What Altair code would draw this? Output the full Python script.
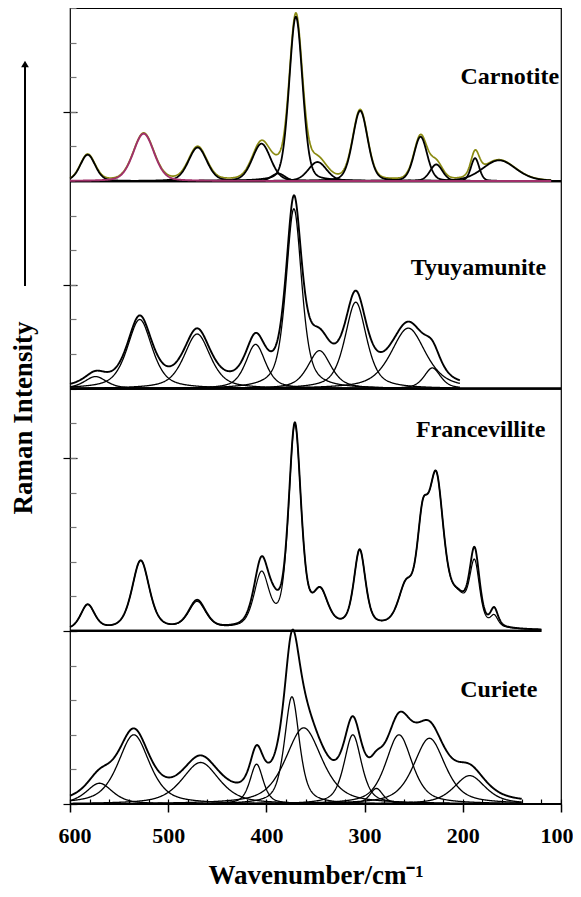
import numpy as np
import pandas as pd
import altair as alt

FONT = "Times New Roman, Liberation Serif, serif"

# ---------------- data ----------------
minerals = ["Carnotite", "Tyuyamunite", "Francevillite", "Curiete"]
offsets = [18, 12, 5, 0]            # baseline of each trace (intensity units)
curve_end = [110, 203, 120, 140]    # last wavenumber of each trace
baseline_end = [100, 100, 120, 100]
label_wn = [102, 115, 116, 124]
label_level = [21.0, 15.5, 10.8, 3.3]

x_major_ticks = [600, 500, 400, 300, 200, 100]
x_minor_ticks = list(range(100, 601, 20))
y_major_ticks = [0, 5, 10, 15, 20]
y_minor_ticks = list(range(0, 24))

# band parameters: centre (cm-1), height, FWHM
car_centers = [582, 525, 470, 405, 388, 370, 348, 304.5, 243, 227, 187.5, 163]
car_heights = [0.76, 1.37, 0.97, 1.08, 0.22, 4.75, 0.55, 2.03, 1.28, 0.48, 0.66, 0.6]
car_fwhm = [18, 25, 22, 22, 16, 16, 22, 18, 16, 15, 10, 40]

tyu_centers = [574, 529, 470.5, 411, 372, 346, 309, 255.5, 231]
tyu_heights = [0.35, 2.0, 1.58, 1.28, 5.2, 1.1, 2.5, 1.75, 0.6]
tyu_fwhm = [27, 30, 32, 24, 19, 28, 26, 42, 20]

fra_centers = [582, 528, 470.5, 405, 392, 371, 345, 305, 258, 241, 227, 205, 188, 168]
fra_heights = [0.72, 2.0, 0.82, 1.9, 0.35, 5.85, 0.95, 2.22, 1.05, 2.55, 4.1, 0.7, 2.1, 0.5]
fra_fit_heights = [0.72, 2.0, 0.78, 1.55, 0.0, 5.85, 0.95, 2.22, 1.05, 2.55, 4.1, 0.7, 1.75, 0.3]
fra_fwhm = [17, 21, 21, 18, 16, 15, 18, 14, 18, 14, 18, 22, 12, 9]

cur_centers = [570, 535, 467, 410, 374, 362, 312, 288, 265, 234, 193]
cur_heights = [0.6, 2.0, 1.2, 1.15, 3.1, 2.2, 2.0, 0.45, 2.0, 1.9, 0.82]
cur_fwhm = [32, 38, 45, 16, 18, 44, 21, 16, 32, 38, 38]

lorentz_share = {"Carnotite": 0.25, "Tyuyamunite": 0.6, "Francevillite": 0.5, "Curiete": 0.6}


def band(x, c, h, f, eta):
    lor = 1.0 / (1.0 + ((x - c) / (f / 2.0)) ** 2)
    gau = np.exp(-4.0 * np.log(2.0) * ((x - c) / f) ** 2)
    return h * (eta * lor + (1.0 - eta) * gau)


frames = []


def add(name, x, y, kind):
    frames.append(pd.DataFrame({"w": x, "y": y, "series": name, "kind": kind}))


params = {
    "Carnotite": (car_centers, car_heights, car_fwhm),
    "Tyuyamunite": (tyu_centers, tyu_heights, tyu_fwhm),
    "Francevillite": (fra_centers, fra_heights, fra_fwhm),
    "Curiete": (cur_centers, cur_heights, cur_fwhm),
}

for i, m in enumerate(minerals):
    x = np.arange(600, curve_end[i] - 0.25, -0.5)
    cs, hs, fs = params[m]
    eta = lorentz_share[m]
    off = offsets[i]
    comps = [band(x, c, h, f, eta) for c, h, f in zip(cs, hs, fs)]
    total = np.sum(comps, axis=0)
    if m == "Carnotite":
        add(m + "_sum", x, total + off, "olive")
        for j, comp in enumerate(comps):
            kind = "magenta" if cs[j] == 525 else "comp_thick"
            add(f"{m}_c{j}", x, comp + off, kind)
    elif m == "Francevillite":
        fit = np.sum([band(x, c, h, f, eta) for c, h, f in zip(cs, fra_fit_heights, fs)], axis=0)
        add(m + "_fit", x, fit + off, "fit")
        add(m + "_sum", x, total + off, "sum")
    else:
        for j, comp in enumerate(comps):
            add(f"{m}_c{j}", x, comp + off, "comp")
        add(m + "_sum", x, total + off, "sum")

curves = pd.concat(frames, ignore_index=True)

base_rows = []
for i, m in enumerate(minerals):
    base_rows.append({"w": 600, "y": offsets[i], "series": m})
    base_rows.append({"w": baseline_end[i], "y": offsets[i], "series": m})
baselines = pd.DataFrame(base_rows)

labels = pd.DataFrame({"name": minerals, "w": label_wn, "y": label_level})

# ---------------- chart ----------------
xs = alt.Scale(domain=[100, 600], reverse=True, nice=False, zero=False)
ys = alt.Scale(domain=[0, 23], nice=False, zero=False)

x_major = alt.Axis(orient="bottom", values=x_major_ticks, tickSize=8, tickWidth=1.5, tickColor="black",
                   labelFont=FONT, labelFontSize=22, labelFontWeight="bold", labelColor="black",
                   labelPadding=13, labelFlush=True, labelFlushOffset=12, labelOverlap=False,
                   format="d", domain=False, grid=False,
                   title="Wavenumber/cm\u207B\u00B9", titleFont=FONT, titleFontSize=27,
                   titleFontWeight="bold", titleColor="black", titlePadding=16)
x_minor = alt.Axis(orient="bottom", values=x_minor_ticks, tickSize=5, offset=-5, tickColor="black",
                   tickWidth=1.2, labels=False, domain=False, grid=False, title=None)
y_major = alt.Axis(orient="left", values=y_major_ticks, tickSize=14, offset=-7, tickColor="black",
                   tickWidth=1.2, labels=False, domain=False, grid=False, title=None)
y_minor = alt.Axis(orient="left", values=y_minor_ticks, tickSize=6, offset=-6, tickColor="#777777",
                   tickWidth=1.2, labels=False, domain=False, grid=False, title=None)

base_layer = alt.Chart(baselines).mark_line(color="black", strokeWidth=2.2).encode(
    x=alt.X("w:Q", scale=xs, axis=x_major),
    y=alt.Y("y:Q", scale=ys, axis=y_major),
    detail="series:N",
)

ticks_layer = alt.Chart(baselines).mark_line(color="black", strokeWidth=2.2).encode(
    x=alt.X("w:Q", scale=xs, axis=x_minor),
    y=alt.Y("y:Q", scale=ys, axis=y_minor),
    detail="series:N",
)


def curve_layer(kind, color, width):
    return alt.Chart(curves).transform_filter(alt.datum.kind == kind).mark_line(
        color=color, strokeWidth=width, strokeJoin="round"
    ).encode(
        x=alt.X("w:Q", scale=xs, axis=None),
        y=alt.Y("y:Q", scale=ys, axis=None),
        detail="series:N",
        order="w:Q",
    )


olive = curve_layer("olive", "#8a8a10", 1.7)
comp_thick = curve_layer("comp_thick", "black", 1.8)
comp = curve_layer("comp", "black", 1.3)
fit = curve_layer("fit", "black", 1.2)
sums = curve_layer("sum", "black", 1.9)
magenta = curve_layer("magenta", "#a0306a", 1.9)

text_layer = alt.Chart(labels).mark_text(
    font=FONT, fontSize=24, fontWeight="bold", align="right", baseline="middle", color="black"
).encode(
    x=alt.X("w:Q", scale=xs, axis=None),
    y=alt.Y("y:Q", scale=ys, axis=None),
    text="name:N",
)

ytitle = alt.Chart(pd.DataFrame({"t": ["Raman Intensity"]})).mark_text(
    font=FONT, fontSize=27, fontWeight="bold", angle=270, align="center", baseline="middle",
    color="black"
).encode(x=alt.value(-46), y=alt.value(410), text="t:N")

arrow_line = alt.Chart(pd.DataFrame({"a": [0]})).mark_rule(color="black", strokeWidth=2).encode(
    x=alt.value(-45), y=alt.value(278), y2=alt.value(58)
)
arrow_head = alt.Chart(pd.DataFrame({"a": [0]})).mark_point(
    shape="triangle-up", filled=True, color="black", size=60, opacity=1
).encode(x=alt.value(-45), y=alt.value(56))

chart = alt.layer(
    base_layer, ticks_layer, olive, comp, comp_thick, fit, sums, magenta,
    text_layer, ytitle, arrow_line, arrow_head
).resolve_axis(x="independent", y="independent").properties(
    width=491, height=796,
    autosize=alt.AutoSizeParams(type="none"),
    padding={"left": 62, "top": 0, "right": 12, "bottom": 85},
).configure_view(stroke="black", strokeWidth=1.2)

chart.save("out.html", embed_options={"renderer": "svg", "actions": False})
